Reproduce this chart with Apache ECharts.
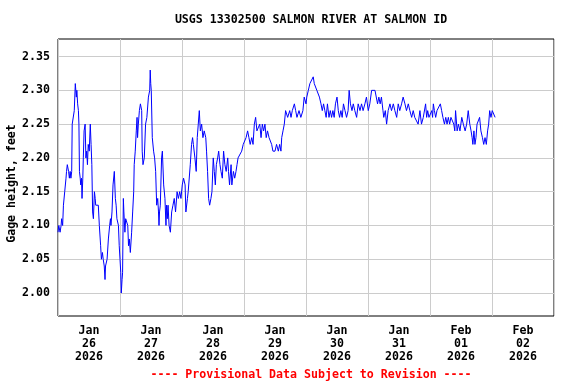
<!DOCTYPE html>
<html>
<head>
<meta charset="utf-8">
<script src="https://cdn.jsdelivr.net/npm/echarts@6/dist/echarts.min.js"></script>
<style>html,body{margin:0;padding:0;background:#fff}#c{width:576px;height:384px}</style>
</head>
<body>
<div id="c"></div>
<script>
// Hours since 2026-01-26 00:00 (local)
const hours = [
0.0,0.3,0.8,1.2,1.4,1.8,2.1,2.6,3.1,3.3,3.6,4.1,4.4,4.7,5.0,5.3,5.5,6.0,6.3,6.7,6.9,7.1,7.3,7.6,7.9,8.1,8.3,8.6,8.8,9.1,9.3,9.6,9.8,10.1,10.5,10.8,11.1,11.4,11.7,12.1,12.5,12.8,13.1,13.4,13.7,14.1,14.4,14.6,15.0,15.6,16.0,16.5,16.8,17.2,17.5,17.9,18.2,18.4,19.0,19.5,20.0,20.3,20.5,20.9,21.3,21.8,22.2,22.5,22.8,23.4,23.7,
24.0,24.3,24.5,24.8,25.0,25.3,25.5,25.9,26.2,26.6,27.0,27.3,27.6,28.0,28.5,28.9,29.3,29.5,29.9,30.3,30.6,30.8,31.1,31.5,31.9,32.4,32.6,32.9,33.4,33.9,34.4,35.0,35.5,35.7,35.9,36.1,36.5,37.0,37.4,37.8,38.2,38.6,38.9,39.1,39.3,39.6,40.1,40.4,40.9,41.4,41.8,42.0,42.3,42.6,43.0,43.5,44.0,44.5,45.0,45.5,46.1,46.6,47.1,47.6,
48.1,48.6,49.2,49.5,50.1,50.4,51.2,51.7,52.1,52.4,53.0,53.5,53.9,54.3,54.7,55.1,55.6,56.1,56.6,57.2,57.5,57.9,58.3,58.7,59.2,59.6,60.1,60.5,60.9,61.3,61.8,62.2,62.7,63.1,63.6,64.1,64.6,65.1,65.7,66.0,66.4,67.0,67.3,67.9,68.4,68.9,69.3,69.7,70.4,71.1,71.7,
72.2,72.8,73.4,73.9,74.4,75.0,75.5,76.0,76.5,77.0,77.5,78.1,78.6,79.1,79.6,80.1,80.6,81.1,81.7,82.2,82.7,83.2,84.0,84.6,85.3,85.8,86.3,86.6,87.1,87.6,88.1,88.9,89.7,90.2,90.7,91.5,92.0,92.5,93.3,94.0,94.8,95.3,
95.6,96.0,96.3,96.9,97.5,98.2,98.8,99.2,99.7,100.2,100.7,101.2,101.8,102.3,102.8,103.3,103.8,104.3,104.9,105.4,105.9,106.4,106.9,107.4,108.0,108.5,109.0,109.5,110.0,110.5,111.1,111.7,112.3,112.7,113.2,113.8,114.3,114.9,115.6,116.2,116.9,117.5,118.1,118.8,119.4,
120.1,120.7,121.4,122.0,122.7,123.3,123.7,124.2,124.7,125.2,125.8,126.1,126.7,127.2,127.8,128.5,129.1,129.8,130.4,131.1,131.7,132.3,133.0,133.6,134.3,134.9,135.6,136.2,136.9,137.5,138.1,138.8,139.4,140.1,140.7,141.4,142.0,
142.3,142.7,143.1,143.6,144.1,144.7,145.0,145.3,145.7,146.2,146.7,147.2,148.0,148.5,149.0,149.6,150.1,150.6,151.1,151.6,152.1,152.6,153.2,153.6,153.9,154.5,155.0,155.6,156.3,156.9,157.6,158.2,158.8,159.4,159.9,160.3,160.6,161.0,161.4,161.8,162.2,162.7,163.2,163.7,164.3,164.8,165.3,165.8,166.3,166.7,167.1,167.6,168.1,168.6,169.2,169.4
];
const gage = [
2.09,2.10,2.09,2.10,2.11,2.10,2.13,2.15,2.17,2.18,2.19,2.18,2.17,2.18,2.17,2.18,2.25,2.25,2.27,2.31,2.30,2.29,2.30,2.28,2.27,2.25,2.18,2.17,2.16,2.17,2.14,2.17,2.20,2.24,2.25,2.20,2.21,2.19,2.22,2.21,2.25,2.22,2.19,2.12,2.11,2.15,2.14,2.13,2.13,2.13,2.10,2.07,2.05,2.06,2.05,2.04,2.02,2.04,2.05,2.08,2.10,2.11,2.10,2.12,2.16,2.18,2.14,2.13,2.11,2.10,2.07,
2.05,2.03,2.00,2.02,2.03,2.14,2.12,2.09,2.11,2.11,2.10,2.07,2.08,2.06,2.09,2.12,2.15,2.19,2.21,2.24,2.26,2.23,2.25,2.27,2.28,2.27,2.21,2.19,2.20,2.25,2.26,2.29,2.30,2.33,2.31,2.30,2.23,2.21,2.20,2.18,2.13,2.14,2.12,2.10,2.12,2.13,2.20,2.21,2.16,2.14,2.10,2.13,2.11,2.13,2.10,2.09,2.12,2.13,2.14,2.12,2.15,2.14,2.15,2.14,
2.16,2.17,2.16,2.12,2.14,2.15,2.19,2.22,2.23,2.22,2.20,2.18,2.23,2.25,2.27,2.24,2.25,2.23,2.24,2.23,2.21,2.18,2.14,2.13,2.14,2.15,2.20,2.18,2.16,2.19,2.20,2.21,2.19,2.18,2.17,2.21,2.19,2.18,2.20,2.18,2.16,2.19,2.16,2.18,2.17,2.18,2.19,2.20,2.20,2.21,2.22,
2.22,2.23,2.24,2.23,2.22,2.23,2.22,2.25,2.26,2.24,2.24,2.25,2.23,2.25,2.24,2.25,2.23,2.24,2.23,2.23,2.22,2.21,2.21,2.22,2.21,2.22,2.21,2.23,2.24,2.25,2.27,2.26,2.27,2.26,2.27,2.28,2.27,2.26,2.27,2.26,2.27,2.29,
2.29,2.28,2.29,2.30,2.31,2.31,2.32,2.31,2.31,2.30,2.30,2.29,2.28,2.27,2.28,2.27,2.26,2.28,2.26,2.27,2.26,2.27,2.26,2.28,2.29,2.27,2.26,2.27,2.26,2.28,2.27,2.26,2.27,2.30,2.28,2.27,2.28,2.27,2.26,2.28,2.27,2.28,2.27,2.28,2.29,
2.27,2.28,2.30,2.30,2.30,2.30,2.28,2.29,2.28,2.29,2.27,2.26,2.27,2.25,2.27,2.28,2.27,2.28,2.27,2.26,2.28,2.27,2.28,2.29,2.28,2.27,2.28,2.27,2.26,2.27,2.26,2.26,2.25,2.27,2.25,2.26,2.26,
2.28,2.26,2.27,2.26,2.26,2.27,2.26,2.28,2.27,2.26,2.27,2.27,2.28,2.27,2.26,2.25,2.26,2.25,2.26,2.25,2.26,2.26,2.25,2.24,2.27,2.24,2.25,2.24,2.26,2.25,2.24,2.25,2.27,2.25,2.24,2.23,2.22,2.24,2.22,2.23,2.25,2.25,2.26,2.24,2.23,2.22,2.23,2.22,2.24,2.25,2.27,2.26,2.27,2.27,2.26,2.26
];
const yTicks = [2.00, 2.05, 2.10, 2.15, 2.20, 2.25, 2.30, 2.35];
const dayBounds = [0, 24, 48, 72, 96, 120, 144, 168, 192];
const dayCenters = [12, 36, 60, 84, 108, 132, 156, 180];
const dayLabels = ['Jan\n26\n2026','Jan\n27\n2026','Jan\n28\n2026','Jan\n29\n2026','Jan\n30\n2026','Jan\n31\n2026','Feb\n01\n2026','Feb\n02\n2026'];

const FONT = 'DejaVu Sans Mono';
const chart = echarts.init(document.getElementById('c'), null, {renderer: 'canvas'});
chart.setOption({
  animation: false,
  backgroundColor: '#fff',
  title: [{
    text: 'USGS 13302500 SALMON RIVER AT SALMON ID',
    left: 306, top: 9, textAlign: 'center',
    textStyle: {fontFamily: FONT, fontSize: 11.6, fontWeight: 'bold', color: '#000'}
  }, {
    text: '---- Provisional Data Subject to Revision ----',
    left: 306, top: 364, textAlign: 'center',
    textStyle: {fontFamily: FONT, fontSize: 11.6, fontWeight: 'bold', color: '#ff0000'}
  }],
  grid: {left: 58, right: 22, top: 39, bottom: 68, show: true, borderColor: '#000', borderWidth: 1, containLabel: false, outerBoundsMode: 'none'},
  xAxis: {
    type: 'value', min: 0, max: 192,
    axisLine: {show: false},
    axisTick: {show: false, customValues: dayBounds},
    splitLine: {show: true, lineStyle: {color: '#cccccc', width: 1}},
    axisLabel: {
      customValues: dayCenters,
      formatter: function (v) { return dayLabels[dayCenters.indexOf(v)]; },
      fontFamily: FONT, fontSize: 11.6, fontWeight: 'bold', color: '#000',
      lineHeight: 13, margin: 8
    }
  },
  yAxis: {
    type: 'value', min: 1.966, max: 2.376,
    name: 'Gage height, feet', nameLocation: 'middle', nameGap: 40, nameMoveOverlap: false,
    nameTextStyle: {fontFamily: FONT, fontSize: 11.6, fontWeight: 'bold', color: '#000', padding: [0, 12, 0, 0]},
    axisLine: {show: false},
    axisTick: {show: false, customValues: yTicks},
    splitLine: {show: true, lineStyle: {color: '#cccccc', width: 1}},
    axisLabel: {
      customValues: yTicks,
      formatter: function (v) { return v.toFixed(2); },
      fontFamily: FONT, fontSize: 11.6, fontWeight: 'bold', color: '#000', margin: 8
    }
  },
  series: [{
    type: 'line',
    data: hours.map(function (h, i) { return [h, gage[i]]; }),
    showSymbol: false,
    lineStyle: {color: '#0000ff', width: 1},
    itemStyle: {color: '#0000ff'}
  }]
});
</script>
</body>
</html>
